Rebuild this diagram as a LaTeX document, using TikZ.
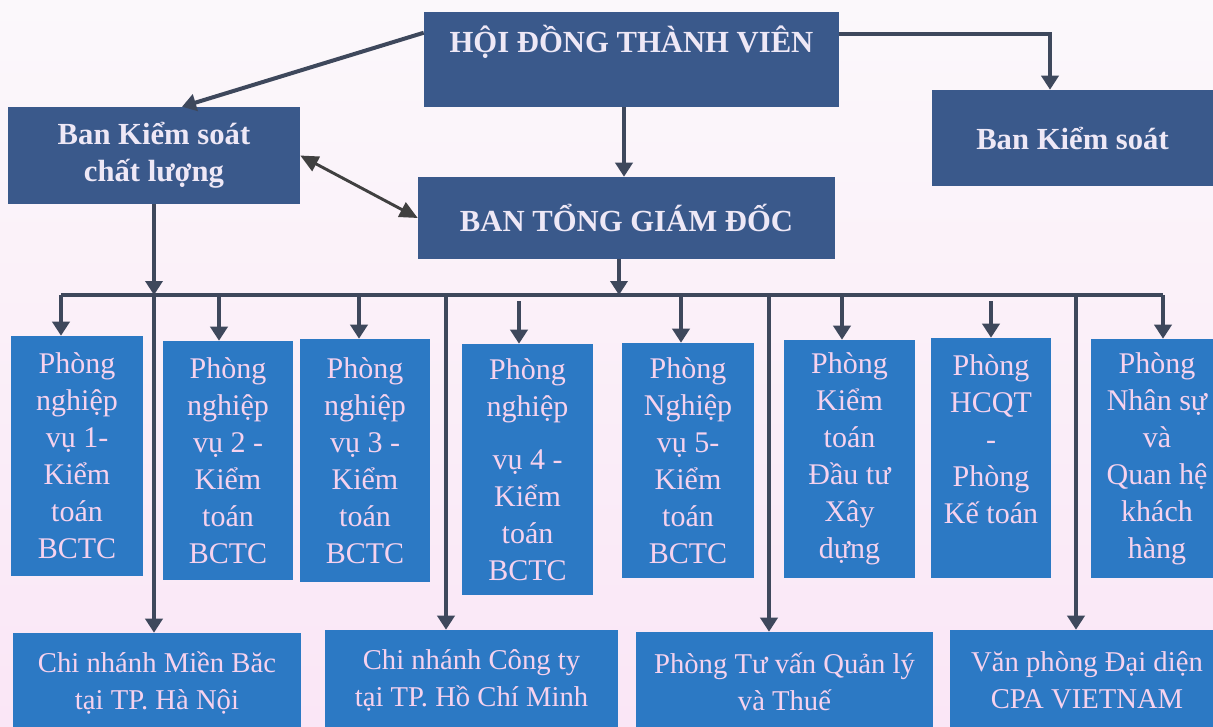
\documentclass[tikz,border=0pt]{standalone}
\usepackage{fontspec}
\setmainfont{Liberation Serif}
\usetikzlibrary{arrows.meta}
\def\pix{0.75pt}
\definecolor{topblue}{RGB}{58,89,139}
\definecolor{toptext}{RGB}{238,232,246}
\definecolor{deptblue}{RGB}{44,121,196}
\definecolor{depttext}{RGB}{246,210,238}
\definecolor{lineclr}{RGB}{62,72,92}
\definecolor{bgtop}{RGB}{251,248,251}
\definecolor{bgbot}{RGB}{250,230,246}
\tikzset{
	topbox/.style={fill=topblue, text=toptext, align=center, inner sep=0pt, font=\bfseries\fontsize{23}{27.75}\selectfont},
	deptbox/.style={fill=deptblue, text=depttext, align=center, inner sep=0pt, font=\fontsize{22.5}{27.75}\selectfont},
	unitbox/.style={fill=deptblue, text=depttext, align=center, inner sep=0pt, font=\fontsize{21.5}{27.75}\selectfont},
	conn/.style={draw=lineclr, line width=3pt, -{Triangle[length=10.5pt,width=12.75pt]}},
	busline/.style={draw=lineclr, line width=3pt},
	dblconn/.style={draw=black!75, line width=2.2pt, {Triangle[length=13.5pt,width=12pt]}-{Triangle[length=13.5pt,width=12pt]}}
}

\begin{document}
\begin{tikzpicture}[x=0.75pt, y=-0.75pt]
			%%%%% START %%%%%
			
			\useasboundingbox (0, 0) rectangle (1213, 726);
			\shade[top color=bgtop, bottom color=bgbot] (0, 0) rectangle (1213, 726);
			
			% top levels
			\node[topbox, minimum width=415*\pix, minimum height=95*\pix, text height=21pt, text depth=32pt] (hdtv) at (631.5, 59.5) {HỘI ĐỒNG THÀNH VIÊN};
			\node[topbox, minimum width=292*\pix, minimum height=97*\pix] (bkscl) at (154, 155.5) {Ban Kiểm soát\\chất lượng};
			\node[topbox, minimum width=281*\pix, minimum height=96*\pix] (bks) at (1072.5, 138) {Ban Kiểm soát};
			\node[topbox, minimum width=417*\pix, minimum height=82*\pix] (btgd) at (626.5, 218) {BAN TỔNG GIÁM ĐỐC};
			
			% departments
			\node[deptbox, minimum width=132*\pix, minimum height=240*\pix] (p1) at (77, 456) {Phòng\\nghiệp\\vụ 1-\\Kiểm\\toán\\BCTC};
			\node[deptbox, minimum width=130*\pix, minimum height=239*\pix] (p2) at (228, 460.5) {Phòng\\nghiệp\\vụ 2 -\\Kiểm\\toán\\BCTC};
			\node[deptbox, minimum width=130*\pix, minimum height=243*\pix] (p3) at (365, 460.5) {Phòng\\nghiệp\\vụ 3 -\\Kiểm\\toán\\BCTC};
			\node[deptbox, minimum width=131*\pix, minimum height=251*\pix] (p4) at (527.5, 469.5) {Phòng\\nghiệp\\[12pt]vụ 4 -\\Kiểm\\toán\\BCTC};
			\node[deptbox, minimum width=132*\pix, minimum height=235*\pix] (p5) at (688, 460.5) {Phòng\\Nghiệp\\vụ 5-\\Kiểm\\toán\\BCTC};
			\node[deptbox, minimum width=131*\pix, minimum height=238*\pix] (p6) at (849.5, 459) {Phòng\\Kiểm\\toán\\Đầu tư\\Xây\\dựng};
			\node[deptbox, minimum width=120*\pix, minimum height=240*\pix] (p7) at (991, 458) {Phòng\\HCQT\\-\\Phòng\\Kế toán\\\mbox{}};
			\node[deptbox, minimum width=132*\pix, minimum height=239*\pix] (p8) at (1157, 458.5) {Phòng\\Nhân sự\\và\\Quan hệ\\khách\\hàng};
			
			% branches
			\node[unitbox, minimum width=288*\pix, minimum height=100*\pix] (cnmb) at (157, 683) {Chi nhánh Miền Băc\\tại TP. Hà Nội};
			\node[unitbox, minimum width=293*\pix, minimum height=100*\pix] (cnct) at (471.5, 680) {Chi nhánh Công ty\\tại TP. Hồ Chí Minh};
			\node[unitbox, minimum width=297*\pix, minimum height=100*\pix] (tvql) at (784.5, 682) {Phòng Tư vấn Quản lý\\và Thuế};
			\node[unitbox, minimum width=274*\pix, minimum height=100*\pix] (vpdd) at (1087, 680) {Văn phòng Đại diện\\CPA VIETNAM};
			
			% connectors
			\draw[conn] ([yshift=-21*\pix]hdtv.north west) -- ([xshift=28*\pix]bkscl.north);
			\draw[conn] ([yshift=-22*\pix]hdtv.north east) -| ([xshift=-22.5*\pix]bks.north);
			\draw[conn] ([xshift=-2.5*\pix]btgd.north |- hdtv.south) -- ([xshift=-2.5*\pix]btgd.north);
			\draw[dblconn] (bkscl.east) -- (btgd.west);
			
			\coordinate (busL) at (61, 295);
			\coordinate (busR) at (1163, 295);
			\draw[conn] (bkscl.south) -- (bkscl.south |- busL);
			\draw[conn] ([xshift=-7.5*\pix]btgd.south) -- ([xshift=-7.5*\pix]btgd.south |- busL);
			\draw[busline] (busL) -- (busR);
			
			\foreach \n/\dx/\gap in {p1/-16/0, p2/-9/0, p3/-6/0, p4/-8.5/6, p5/-7/0, p6/-7.5/0, p7/0/6, p8/6/0}
				\draw[conn, shorten <=\gap*\pix] ([xshift=\dx*\pix]\n.north |- busL) -- ([xshift=\dx*\pix]\n.north);
			
			\draw[conn] (bkscl.south |- busL) -- (bkscl.south |- cnmb.north);
			\foreach \n/\dx in {cnct/-25.5, tvql/-15.5, vpdd/-11}
				\draw[conn] ([xshift=\dx*\pix]\n.north |- busL) -- ([xshift=\dx*\pix]\n.north);
			
			%%%%% END %%%%%
\end{tikzpicture}
\end{document}
